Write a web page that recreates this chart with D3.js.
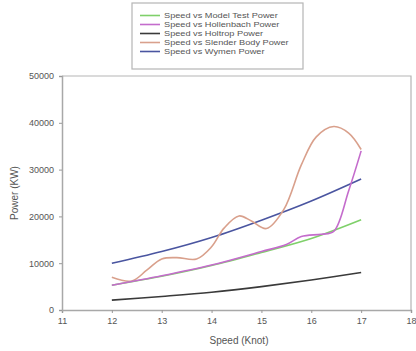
<!DOCTYPE html>
<html>
<head>
<meta charset="utf-8">
<script src="https://cdn.jsdelivr.net/npm/d3@7"></script>
<style>
  body { margin: 0; background: #fff; }
  text { font-family: "Liberation Sans", Arial, sans-serif; fill: #555; }
</style>
</head>
<body>
<div id="chart"></div>
<script>
// series (speed in knots, power in kW)
const seriesNames = [
  'Speed vs Model Test Power',
  'Speed vs Hollenbach Power',
  'Speed vs Holtrop Power',
  'Speed vs Slender Body Power',
  'Speed vs Wymen Power'
];
const seriesColors = ['#7fd06a', '#c46ccc', '#3a3a3a', '#d9a08c', '#4a55a0'];

const modelTest = [[12, 5300], [13, 7200], [14, 9500], [15, 12300], [16, 15300], [17, 19300]];
const hollenbach = [[12, 5300], [13, 7300], [14, 9600], [15, 12500], [15.5, 14000], [15.8, 15700],
  [16.2, 16200], [16.45, 16800], [16.75, 25500], [17, 34000]];
const holtrop = [[12, 2100], [13, 2900], [14, 3800], [15, 5000], [16, 6400], [17, 8000]];
const slenderBody = [[12, 7000], [12.4, 6200], [12.7, 8500], [13, 10900], [13.3, 11200], [13.7, 10900],
  [14, 13500], [14.25, 17500], [14.55, 20100], [14.8, 19000], [15.1, 17400], [15.45, 21500],
  [15.8, 31000], [16.1, 37000], [16.45, 39200], [16.75, 37800], [17, 34300]];
const wymen = [[12, 10000], [13, 12500], [14, 15500], [15, 19200], [16, 23300], [17, 28000]];

const xTicks = [11, 12, 13, 14, 15, 16, 17, 18];
const yTicks = [0, 10000, 20000, 30000, 40000, 50000];

const allSeries = [modelTest, hollenbach, holtrop, slenderBody, wymen];

const width = 416, height = 351;
const margin = { top: 76, right: 5, bottom: 41, left: 62 };
const plotW = width - margin.left - margin.right;
const plotH = height - margin.top - margin.bottom;

const svg = d3.select('#chart').append('svg')
  .attr('width', width)
  .attr('height', height);

const g = svg.append('g')
  .attr('transform', 'translate(' + margin.left + ',' + margin.top + ')');

const x = d3.scaleLinear().domain([11, 18]).range([0, plotW]);
const y = d3.scaleLinear().domain([0, 50000]).range([plotH, 0]);

// frame (top and right)
g.append('path')
  .attr('d', 'M0,0H' + plotW + 'V' + plotH)
  .attr('fill', 'none')
  .attr('stroke', '#b5b5b5')
  .attr('stroke-width', 1.2);

const xAxis = g.append('g')
  .attr('transform', 'translate(0,' + plotH + ')')
  .call(d3.axisBottom(x).tickValues(xTicks).tickFormat(d3.format('d')).tickSize(3).tickPadding(5));

const yAxis = g.append('g')
  .call(d3.axisLeft(y).tickValues(yTicks).tickFormat(d3.format('d')).tickSize(3).tickPadding(5));

[xAxis, yAxis].forEach(ax => {
  ax.select('.domain').attr('stroke', '#a8a8a8').attr('stroke-width', 1.5);
  ax.selectAll('.tick line').attr('stroke', '#999');
  ax.selectAll('.tick text').style('font-size', '9px').attr('fill', '#555');
});

const line = d3.line()
  .x(d => x(d[0]))
  .y(d => y(d[1]))
  .curve(d3.curveCatmullRom.alpha(0.5));

// draw Holtrop, Wymen, Slender, Model Test, Hollenbach
[2, 4, 3, 0, 1].forEach(i => {
  g.append('path')
    .datum(allSeries[i])
    .attr('fill', 'none')
    .attr('stroke', seriesColors[i])
    .attr('stroke-width', 1.6)
    .attr('d', line);
});

// axis titles
svg.append('text')
  .attr('x', 239)
  .attr('y', 344)
  .attr('text-anchor', 'middle')
  .style('font-size', '10px')
  .text('Speed (Knot)');

svg.append('text')
  .attr('transform', 'translate(18,193) rotate(-90)')
  .attr('text-anchor', 'middle')
  .style('font-size', '10px')
  .text('Power (KW)');

// legend
const legend = svg.append('g');
legend.append('rect')
  .attr('x', 132)
  .attr('y', 3)
  .attr('width', 171)
  .attr('height', 66)
  .attr('fill', '#fff')
  .attr('stroke', '#b5b5b5')
  .attr('stroke-width', 1.2);

seriesNames.forEach((name, i) => {
  const ly = 15.5 + i * 9;
  legend.append('line')
    .attr('x1', 140).attr('x2', 160)
    .attr('y1', ly).attr('y2', ly)
    .attr('stroke', seriesColors[i])
    .attr('stroke-width', 1.6);
  legend.append('text')
    .attr('transform', 'translate(164,' + (ly + 2.8) + ') scale(1.18,1)')
    .style('font-size', '7.8px')
    .text(name);
});
</script>
</body>
</html>
